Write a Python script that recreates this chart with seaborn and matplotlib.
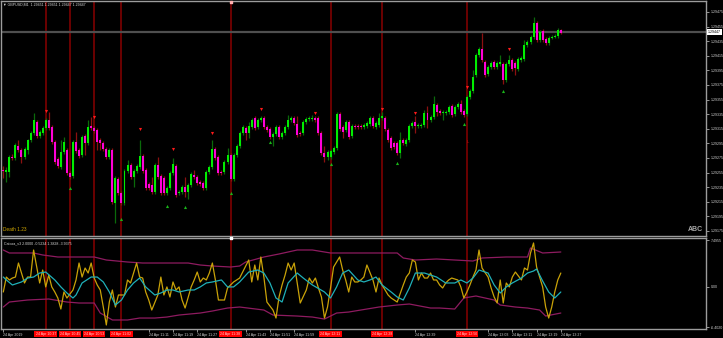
import matplotlib
matplotlib.use("Agg")
import matplotlib.pyplot as plt
import matplotlib.transforms as mtransforms
import numpy as np
import pandas as pd
import seaborn as sns

# ---------------- data (GBPUSD M1, 24 Apr 2019) ----------------
first_time = "2019-04-24 10:23"

opens = [1.29258, 1.29256, 1.29256, 1.29276, 1.29275, 1.29291, 1.29286, 1.29276, 1.29286, 1.29300,
         1.29309, 1.29324, 1.29305, 1.29309, 1.29316, 1.29327, 1.29317, 1.29297, 1.29274, 1.29263,
         1.29283, 1.29286, 1.29254, 1.29250, 1.29297, 1.29286, 1.29279, 1.29305, 1.29295, 1.29319,
         1.29316, 1.29313, 1.29300, 1.29295, 1.29287, 1.29276, 1.29286, 1.29213, 1.29246, 1.29227,
         1.29213, 1.29257, 1.29265, 1.29249, 1.29257, 1.29263, 1.29278, 1.29258, 1.29239, 1.29238,
         1.29228, 1.29265, 1.29250, 1.29248, 1.29227, 1.29234, 1.29254, 1.29264, 1.29227, 1.29228,
         1.29235, 1.29228, 1.29238, 1.29252, 1.29249, 1.29242, 1.29241, 1.29234, 1.29256, 1.29263,
         1.29287, 1.29276, 1.29256, 1.29256, 1.29269, 1.29279, 1.29246, 1.29279, 1.29291, 1.29309,
         1.29316, 1.29309, 1.29317, 1.29330, 1.29317, 1.29327, 1.29330, 1.29317, 1.29315, 1.29304,
         1.29308, 1.29317, 1.29304, 1.29309, 1.29317, 1.29327, 1.29330, 1.29322, 1.29309, 1.29309,
         1.29324, 1.29328, 1.29328, 1.29330, 1.29330, 1.29309, 1.29282, 1.29276, 1.29276, 1.29283,
         1.29289, 1.29335, 1.29317, 1.29313, 1.29324, 1.29305, 1.29319, 1.29319, 1.29319, 1.29317,
         1.29319, 1.29322, 1.29330, 1.29317, 1.29320, 1.29330, 1.29330, 1.29313, 1.29302, 1.29295,
         1.29295, 1.29282, 1.29300, 1.29294, 1.29300, 1.29319, 1.29324, 1.29319, 1.29319, 1.29320,
         1.29337, 1.29327, 1.29331, 1.29348, 1.29339, 1.29337, 1.29337, 1.29338, 1.29346, 1.29335,
         1.29345, 1.29349, 1.29339, 1.29335, 1.29359, 1.29367, 1.29389, 1.29416, 1.29424, 1.29406,
         1.29390, 1.29400, 1.29406, 1.29400, 1.29404, 1.29404, 1.29382, 1.29404, 1.29409, 1.29405,
         1.29397, 1.29409, 1.29411, 1.29430, 1.29434, 1.29441, 1.29460, 1.29437, 1.29449, 1.29438,
         1.29432, 1.29439, 1.29441, 1.29442, 1.29450]

closes = [1.29257, 1.29258, 1.29276, 1.29275, 1.29293, 1.29286, 1.29276, 1.29287, 1.29300, 1.29309,
          1.29327, 1.29305, 1.29311, 1.29316, 1.29327, 1.29316, 1.29297, 1.29269, 1.29264, 1.29283,
          1.29297, 1.29254, 1.29249, 1.29297, 1.29285, 1.29278, 1.29304, 1.29295, 1.29317, 1.29316,
          1.29312, 1.29297, 1.29295, 1.29287, 1.29276, 1.29286, 1.29215, 1.29248, 1.29227, 1.29213,
          1.29257, 1.29265, 1.29249, 1.29257, 1.29264, 1.29278, 1.29257, 1.29234, 1.29234, 1.29228,
          1.29265, 1.29249, 1.29227, 1.29227, 1.29234, 1.29254, 1.29267, 1.29224, 1.29228, 1.29235,
          1.29228, 1.29238, 1.29253, 1.29249, 1.29241, 1.29239, 1.29234, 1.29256, 1.29263, 1.29287,
          1.29275, 1.29254, 1.29254, 1.29269, 1.29279, 1.29246, 1.29279, 1.29291, 1.29309, 1.29317,
          1.29309, 1.29319, 1.29327, 1.29316, 1.29327, 1.29330, 1.29317, 1.29313, 1.29304, 1.29308,
          1.29317, 1.29304, 1.29309, 1.29317, 1.29327, 1.29330, 1.29323, 1.29306, 1.29308, 1.29324,
          1.29328, 1.29330, 1.29330, 1.29327, 1.29309, 1.29282, 1.29276, 1.29283, 1.29285, 1.29289,
          1.29335, 1.29315, 1.29311, 1.29324, 1.29304, 1.29319, 1.29317, 1.29317, 1.29317, 1.29320,
          1.29323, 1.29330, 1.29319, 1.29323, 1.29330, 1.29332, 1.29315, 1.29300, 1.29289, 1.29290,
          1.29282, 1.29300, 1.29295, 1.29300, 1.29319, 1.29323, 1.29319, 1.29320, 1.29320, 1.29337,
          1.29327, 1.29331, 1.29349, 1.29338, 1.29337, 1.29338, 1.29338, 1.29345, 1.29334, 1.29345,
          1.29349, 1.29338, 1.29334, 1.29359, 1.29367, 1.29386, 1.29416, 1.29424, 1.29409, 1.29389,
          1.29400, 1.29405, 1.29400, 1.29405, 1.29406, 1.29382, 1.29404, 1.29409, 1.29397, 1.29398,
          1.29411, 1.29412, 1.29430, 1.29434, 1.29441, 1.29460, 1.29437, 1.29448, 1.29437, 1.29432,
          1.29439, 1.29441, 1.29442, 1.29450, 1.29446]

highs = [1.29264, 1.29263, 1.29279, 1.29280, 1.29295, 1.29300, 1.29289, 1.29290, 1.29301, 1.29312,
         1.29337, 1.29327, 1.29313, 1.29319, 1.29330, 1.29338, 1.29320, 1.29300, 1.29276, 1.29300,
         1.29304, 1.29289, 1.29257, 1.29300, 1.29311, 1.29289, 1.29306, 1.29308, 1.29327, 1.29331,
         1.29319, 1.29316, 1.29302, 1.29298, 1.29290, 1.29289, 1.29289, 1.29250, 1.29249, 1.29230,
         1.29260, 1.29272, 1.29268, 1.29260, 1.29267, 1.29300, 1.29280, 1.29261, 1.29242, 1.29249,
         1.29268, 1.29276, 1.29253, 1.29250, 1.29237, 1.29257, 1.29275, 1.29267, 1.29231, 1.29238,
         1.29249, 1.29241, 1.29256, 1.29258, 1.29252, 1.29245, 1.29243, 1.29258, 1.29265, 1.29300,
         1.29290, 1.29279, 1.29258, 1.29272, 1.29289, 1.29282, 1.29282, 1.29294, 1.29312, 1.29320,
         1.29319, 1.29324, 1.29330, 1.29332, 1.29330, 1.29332, 1.29332, 1.29320, 1.29317, 1.29311,
         1.29320, 1.29320, 1.29312, 1.29320, 1.29334, 1.29332, 1.29332, 1.29332, 1.29312, 1.29327,
         1.29331, 1.29332, 1.29334, 1.29332, 1.29332, 1.29312, 1.29291, 1.29286, 1.29287, 1.29291,
         1.29338, 1.29338, 1.29320, 1.29327, 1.29327, 1.29322, 1.29322, 1.29322, 1.29322, 1.29323,
         1.29326, 1.29332, 1.29332, 1.29326, 1.29337, 1.29338, 1.29332, 1.29316, 1.29305, 1.29298,
         1.29298, 1.29311, 1.29302, 1.29302, 1.29322, 1.29326, 1.29332, 1.29323, 1.29323, 1.29341,
         1.29346, 1.29334, 1.29360, 1.29350, 1.29342, 1.29341, 1.29341, 1.29348, 1.29349, 1.29348,
         1.29352, 1.29354, 1.29342, 1.29361, 1.29369, 1.29395, 1.29419, 1.29427, 1.29446, 1.29409,
         1.29402, 1.29408, 1.29409, 1.29408, 1.29416, 1.29406, 1.29406, 1.29416, 1.29412, 1.29408,
         1.29413, 1.29415, 1.29437, 1.29437, 1.29443, 1.29468, 1.29463, 1.29450, 1.29452, 1.29441,
         1.29442, 1.29443, 1.29445, 1.29453, 1.29452]

lows = [1.29248, 1.29242, 1.29249, 1.29272, 1.29272, 1.29283, 1.29268, 1.29274, 1.29280, 1.29297,
        1.29306, 1.29302, 1.29302, 1.29306, 1.29313, 1.29313, 1.29294, 1.29267, 1.29261, 1.29260,
        1.29280, 1.29252, 1.29246, 1.29248, 1.29282, 1.29275, 1.29276, 1.29279, 1.29293, 1.29313,
        1.29309, 1.29286, 1.29286, 1.29285, 1.29274, 1.29274, 1.29212, 1.29186, 1.29224, 1.29211,
        1.29211, 1.29254, 1.29246, 1.29235, 1.29254, 1.29260, 1.29254, 1.29231, 1.29231, 1.29226,
        1.29226, 1.29246, 1.29224, 1.29224, 1.29224, 1.29231, 1.29252, 1.29221, 1.29224, 1.29226,
        1.29221, 1.29219, 1.29235, 1.29246, 1.29238, 1.29237, 1.29231, 1.29231, 1.29253, 1.29260,
        1.29272, 1.29252, 1.29252, 1.29253, 1.29267, 1.29243, 1.29243, 1.29276, 1.29289, 1.29306,
        1.29300, 1.29302, 1.29315, 1.29313, 1.29315, 1.29324, 1.29315, 1.29311, 1.29301, 1.29291,
        1.29305, 1.29301, 1.29301, 1.29306, 1.29315, 1.29324, 1.29320, 1.29304, 1.29305, 1.29306,
        1.29322, 1.29326, 1.29326, 1.29324, 1.29306, 1.29279, 1.29269, 1.29272, 1.29274, 1.29280,
        1.29286, 1.29312, 1.29302, 1.29311, 1.29301, 1.29302, 1.29315, 1.29315, 1.29315, 1.29315,
        1.29316, 1.29319, 1.29316, 1.29315, 1.29317, 1.29327, 1.29312, 1.29297, 1.29286, 1.29287,
        1.29279, 1.29275, 1.29293, 1.29291, 1.29297, 1.29316, 1.29309, 1.29316, 1.29316, 1.29317,
        1.29316, 1.29324, 1.29328, 1.29332, 1.29334, 1.29327, 1.29334, 1.29335, 1.29331, 1.29332,
        1.29342, 1.29335, 1.29331, 1.29332, 1.29356, 1.29364, 1.29386, 1.29413, 1.29406, 1.29386,
        1.29387, 1.29397, 1.29397, 1.29397, 1.29401, 1.29376, 1.29379, 1.29401, 1.29394, 1.29389,
        1.29394, 1.29406, 1.29408, 1.29427, 1.29431, 1.29438, 1.29434, 1.29434, 1.29434, 1.29430,
        1.29430, 1.29438, 1.29439, 1.29439, 1.29445]

current_bid = 1.29447
header_text = "GBPUSD,M1  1.29451 1.29451 1.29447 1.29447"
indicator_title = "Catcoa_v3 2.0000 -0.5234 1.3828 -3.9375"

# signal bars (bar number, 1 = first bar)
signal_bars = [15, 23, 31, 40, 76, 109, 126, 154]
sell_bars = [15, 31, 46, 57, 70, 86, 104, 126, 137, 154, 168]
sell_prices = [1.29339, 1.29331, 1.29315, 1.29287, 1.29309, 1.29342, 1.29337, 1.29342, 1.29337, 1.29372, 1.29424]
buy_bars = [23, 40, 55, 61, 76, 89, 109, 131, 153, 166]
buy_prices = [1.29234, 1.29191, 1.29209, 1.29208, 1.29227, 1.29297, 1.29267, 1.29268, 1.29322, 1.29367]

# oscillator (yellow)
osc_bars = [1, 2, 3, 4, 5, 6, 8, 9, 10, 11, 13, 14, 15, 16, 17, 18, 19, 20, 21, 22,
            24, 25, 26, 27, 28, 29, 30, 31, 32, 33, 34, 35, 36, 37, 38, 39, 41, 42, 43, 44,
            45, 46, 47, 48, 49, 50, 52, 53, 54, 55, 56, 57, 58, 59, 60, 61, 63, 64, 65, 66,
            67, 68, 69, 70, 71, 72, 74, 75, 76, 77, 79, 80, 82, 83, 84, 85, 86, 87, 88, 90,
            91, 92, 93, 94, 95, 96, 97, 98, 99, 101, 102, 103, 104, 105, 106, 107, 108, 109, 110, 112,
            113, 114, 115, 116, 117, 118, 119, 120, 121, 123, 124, 125, 126, 127, 128, 129, 130, 131, 133, 134,
            135, 136, 137, 138, 139, 140, 141, 142, 143, 144, 145, 146, 147, 148, 149, 151, 152, 153, 154, 155,
            156, 157, 158, 159, 161, 162, 163, 164, 165, 166, 167, 168, 169, 170, 172, 173, 174, 175, 176, 177,
            178, 179, 180, 181, 182, 183, 184, 185]
osc_vals = [-0.81, 1.58, 1.11, 1.42, 1.58, 3.82, 0.63, 1.58, 1.58, 5.90, 0.63, 2.70, 0.00, 1.90, 0.00, -0.81, -1.77, -3.53, -0.81, -1.77,
            -0.49, 1.11, 3.82, 1.58, 3.02, 2.22, 3.82, 1.42, 0.31, -0.49, -3.21, -6.08, -2.41, -0.49, -3.21, -1.29, -1.29, 1.11, 0.63, 2.22,
            3.82, 1.58, 1.42, -0.81, -2.09, -3.69, -1.29, 1.58, -1.29, 0.00, -1.61, 0.79, -0.49, 0.00, -2.09, -3.37, 0.00, 1.11, 2.38, 0.79,
            1.42, 1.11, 2.22, 3.82, 1.11, -2.09, -2.09, -0.17, 0.31, 0.79, 1.42, 2.38, 4.30, 0.79, 3.50, 1.11, 4.78, 1.58, -2.41, -3.69,
            -4.97, -1.61, 0.31, 1.90, 3.82, 2.70, 3.82, 0.63, -2.57, -0.49, 1.42, 0.63, 1.42, -0.17, -1.61, -4.97, -3.21, -0.17, 3.18, 4.78,
            2.70, 1.11, -0.81, 1.58, 0.79, 0.79, 1.11, 1.58, 3.50, 1.11, -0.81, 1.42, 0.31, -0.49, -1.29, -1.77, -2.09, -2.41, 0.31, 1.58,
            2.22, 4.30, 3.98, 1.11, 2.22, 1.42, 1.42, 2.22, 1.11, 1.11, 0.31, -0.17, 0.63, 1.11, 1.42, 1.11, 0.00, -1.77, -0.81, 0.31,
            1.58, 2.70, 5.90, 3.02, 1.58, -0.17, -1.61, -2.57, 1.11, -2.57, 0.63, 0.00, 1.58, 2.38, 1.11, 3.02, 2.70, 5.42, 7.02, 3.18,
            1.58, 0.00, -3.21, -4.97, -3.21, -0.81, 1.11, 2.22]

# signal line (cyan)
sig_bars = [1, 2, 4, 7, 9, 11, 13, 15, 18, 20, 22, 24, 25, 27, 30, 32, 34, 36, 38, 40,
            42, 44, 46, 48, 51, 53, 55, 57, 59, 62, 64, 66, 68, 70, 73, 75, 77, 79, 82, 85,
            87, 89, 91, 93, 95, 98, 100, 103, 107, 109, 111, 113, 115, 118, 120, 122, 124, 126, 129, 131,
            133, 135, 137, 140, 142, 144, 147, 150, 152, 154, 156, 158, 161, 163, 165, 167, 169, 172, 174, 176,
            177, 179, 181, 183, 185]
sig_vals = [1.58, 1.11, 0.31, 0.79, 1.42, 1.58, 2.22, 2.38, 1.11, 0.00, -0.97, -1.77, -1.29, 0.63, 1.58, 1.58, 0.79, -0.81, -2.89, -2.09,
            -0.49, 0.63, 1.42, 0.00, -1.29, -0.97, -0.49, -0.49, -0.81, -0.49, -0.49, 0.00, 0.63, 0.79, 1.11, 0.00, 0.00, 0.79, 2.38, 2.70,
            2.22, 0.63, -1.77, -2.41, 0.63, 2.22, 1.42, 0.31, -0.81, -1.77, 0.00, 2.22, 2.70, 1.11, 0.79, 1.11, 1.58, 0.31, -0.81, -1.61,
            -2.09, -0.17, 2.22, 2.22, 1.90, 1.58, 0.63, 0.63, 1.11, 0.63, 1.42, 2.70, 2.22, 0.31, -0.97, 0.00, 0.63, 1.42, 2.22, 2.54,
            2.86, 0.95, -0.81, -1.77, -0.81]

# upper / lower bands (purple)
upper_bars = [1, 3, 11, 14, 19, 26, 31, 35, 42, 47, 62, 66, 70, 76, 79, 81, 87, 92, 98, 103,
              109, 120, 125, 131, 133, 137, 144, 156, 159, 167, 174, 175, 179, 185]
upper_vals = [5.90, 5.42, 5.42, 5.10, 4.78, 4.78, 4.78, 4.30, 3.98, 3.82, 3.82, 3.50, 3.34, 3.18, 3.34, 3.98, 4.78, 5.26, 5.90, 5.90,
              5.42, 5.42, 5.42, 5.42, 4.62, 4.30, 4.46, 4.14, 4.62, 4.78, 4.78, 6.22, 5.42, 5.58]
lower_bars = [1, 3, 9, 16, 22, 26, 31, 33, 37, 42, 46, 51, 55, 59, 66, 70, 75, 79, 87, 90,
              98, 103, 107, 111, 115, 125, 131, 135, 142, 145, 150, 153, 157, 163, 165, 170, 174, 178, 180, 185]
lower_vals = [-3.21, -2.41, -2.09, -1.93, -2.41, -2.57, -2.57, -4.17, -5.28, -5.28, -4.97, -4.97, -4.81, -4.49, -4.17, -3.85, -3.37, -3.21, -3.69, -4.49,
              -4.65, -4.81, -5.13, -4.17, -4.01, -3.21, -2.89, -2.73, -3.37, -3.37, -3.53, -1.77, -1.45, -2.09, -2.89, -3.21, -3.37, -3.69, -4.65, -4.17]

price_ticks = [1.29475, 1.29455, 1.29435, 1.29415, 1.29395, 1.29375, 1.29355, 1.29335,
               1.29315, 1.29295, 1.29275, 1.29255, 1.29235, 1.29215, 1.29195, 1.29175]
ind_ticks = [7.4955, 0.0, -6.4020]
ind_tick_labels = ["7.4955", "0.00", "-6.4020"]

# ---------------- figure ----------------
sns.set_theme(style="dark", rc={"axes.facecolor": "black", "figure.facecolor": "black"})
plt.rcParams["font.family"] = ["Liberation Sans", "DejaVu Sans"]

W, H = 723, 338
fig = plt.figure(figsize=(W / 100, H / 100), dpi=100, facecolor="black")

def fx(px):
    return px / W

def fy(py):
    return 1 - py / H

ax = fig.add_axes([fx(1), fy(236), fx(706) - fx(1), fy(1) - fy(236)])
ax2 = fig.add_axes([fx(1), fy(329), fx(706) - fx(1), fy(238) - fy(329)])

n = len(closes)
bars = np.arange(1, n + 1)
times = pd.date_range(first_time, periods=n, freq="min")

o = np.array(opens); c = np.array(closes); h = np.array(highs); l = np.array(lows)
up = c >= o
xlim = (1 + (1 - 3.3) / 3.03, 1 + (706 - 3.3) / 3.03)

grey = "#9c9c9c"
for a in (ax, ax2):
    a.set_facecolor("black")
    a.set_xlim(*xlim)
    for s in a.spines.values():
        s.set_color(grey)
        s.set_linewidth(1.0)
    a.grid(False)
    for b in signal_bars:
        a.axvline(b, color="#7d0000", lw=1.2, zorder=0.5)

ax.set_ylim(1.29168, 1.29490)
ax2.set_ylim(-6.721, 7.815)

# current price line
ax.axhline(current_bid, color="#4f4f4f", lw=1.6, zorder=0.6)

# candles
ax.vlines(bars, l, h, colors=np.where(up, "#0a6a0a", "#8c1010"), lw=0.9, zorder=2)
body_bottom = np.minimum(o, c)
body_h = np.maximum(np.abs(c - o), 0.000011)
ax.bar(bars, body_h, bottom=body_bottom, width=0.66,
       color=np.where(up, "#00ee00", "#ff00d8"), linewidth=0, zorder=3)

# signal arrows
ax.scatter(sell_bars, sell_prices, marker="v", s=5, color="#ff1a1a", linewidths=0, zorder=4)
ax.scatter(buy_bars, buy_prices, marker="^", s=5, color="#19b419", linewidths=0, zorder=4)
ax.text(154.3, 1.29297, "L", color="#d01010", fontsize=3, ha="center", va="center", zorder=4)

# indicator lines
sns.lineplot(x=upper_bars, y=upper_vals, ax=ax2, color="#8e1b60", lw=0.9, estimator=None, sort=False, zorder=2)
sns.lineplot(x=lower_bars, y=lower_vals, ax=ax2, color="#8e1b60", lw=0.9, estimator=None, sort=False, zorder=2)
sns.lineplot(x=osc_bars, y=osc_vals, ax=ax2, color="#c9a208", lw=0.9, estimator=None, sort=False, zorder=3)
sns.lineplot(x=sig_bars, y=sig_vals, ax=ax2, color="#1fb0b8", lw=0.9, estimator=None, sort=False, zorder=4)
ax2.set_xlabel(""); ax2.set_ylabel("")

# price axis
ax.yaxis.tick_right()
ax.set_yticks(price_ticks)
ax.set_yticklabels([f"{p:.5f}" for p in price_ticks])
ax.tick_params(axis="y", colors="#d0d0d0", labelsize=2.6, length=2, width=0.5, pad=1.2, right=True, left=False)
ax.tick_params(axis="x", bottom=False, labelbottom=False)
ax.set_xticks([])

trans_r = mtransforms.blended_transform_factory(ax.transAxes, ax.transData)
ax.text(1.003, current_bid, f"{current_bid:.5f}", transform=trans_r, fontsize=2.6, color="black",
        ha="left", va="center", clip_on=False, zorder=10,
        bbox=dict(boxstyle="square,pad=0.25", fc="white", ec="none"))

# indicator axis
ax2.yaxis.tick_right()
ax2.set_yticks(ind_ticks)
ax2.set_yticklabels(ind_tick_labels)
ax2.tick_params(axis="y", colors="#d0d0d0", labelsize=2.6, length=2, width=0.5, pad=1.2, right=True, left=False)

# time axis: regular labels every 8 bars, except where a red signal label covers them
lab_bars = []
for b in bars:
    if (b - 1) % 8 != 0:
        continue
    if any(sb - 10 <= b <= sb + 4 for sb in signal_bars):
        continue
    lab_bars.append(int(b))
lab_text = ["24 Apr 2019" if b == 1 else times[b - 1].strftime("%d %b %H:%M") for b in lab_bars]
ax2.set_xticks(lab_bars)
ax2.set_xticklabels(lab_text)
ax2.tick_params(axis="x", colors="#d0d0d0", labelsize=2.6, length=2, width=0.5, pad=1.0, bottom=True)
for t in ax2.get_xticklabels():
    t.set_ha("left")

trans_b = mtransforms.blended_transform_factory(ax2.transData, ax2.transAxes)
for b in signal_bars:
    ax2.text(b, -0.035, times[b - 1].strftime("%d %b %H:%M"), transform=trans_b, fontsize=2.5,
             color="#ffd0d0", ha="center", va="top", clip_on=False, zorder=20,
             bbox=dict(boxstyle="square,pad=0.3", fc="#ff0000", ec="none"))

# texts
fig.text(fx(3), fy(4.5), "\u25bc " + header_text, fontsize=2.6, color="#d8d8d8", ha="left", va="center")
fig.text(fx(4), fy(243.5), indicator_title, fontsize=2.6, color="#d8d8d8", ha="left", va="center")
fig.text(fx(3), fy(229.5), "Death 1.23", fontsize=3.4, color="#d4aa00", ha="left", va="center")
fig.text(fx(688), fy(229.5), "ABC", fontsize=5, color="#a8a8a8", ha="left", va="center", fontweight="bold")

# selected-object markers on the line at bar 76
ax.scatter([76], [1.29489], marker="s", s=2, color="#ffb0b0", zorder=6, clip_on=False)
ax2.scatter([76], [7.80], marker="s", s=2, color="#ffffff", zorder=6, clip_on=False)

fig.savefig("out.png", dpi=100, facecolor="black")
